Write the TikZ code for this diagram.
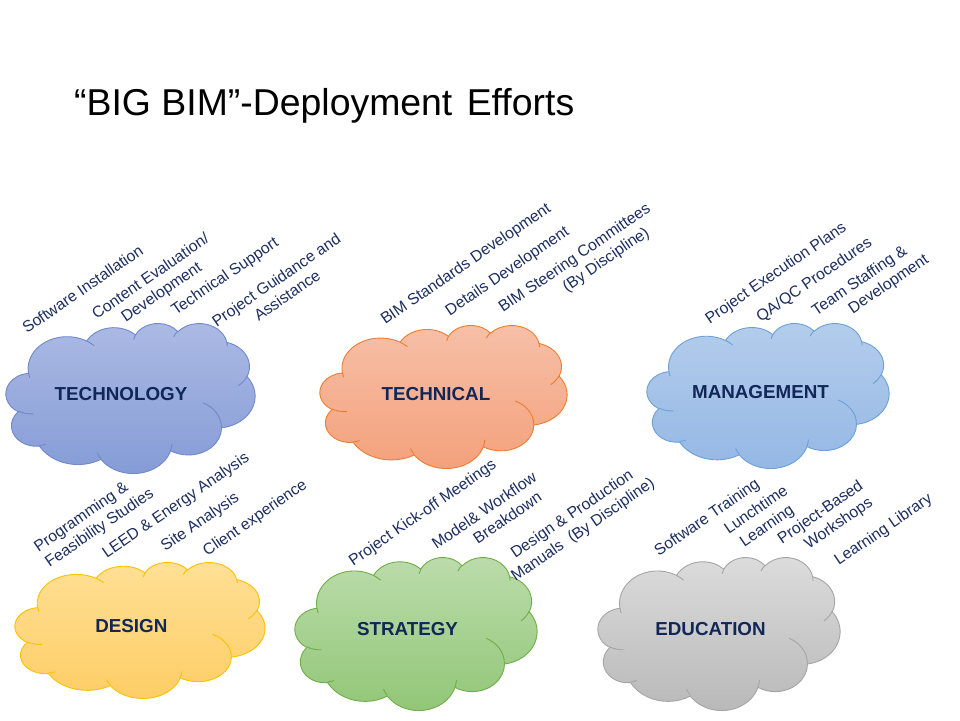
\documentclass[tikz,border=0pt]{standalone}
\usepackage{fontspec}
\setmainfont{Liberation Sans}
\definecolor{navy}{RGB}{28,46,96}
\definecolor{navyb}{RGB}{18,38,88}
\definecolor{techtop}{RGB}{172,186,228}
\definecolor{techbot}{RGB}{132,155,214}
\definecolor{techln}{RGB}{112,136,204}
\definecolor{tcaltop}{RGB}{247,192,168}
\definecolor{tcalbot}{RGB}{243,160,122}
\definecolor{tcalln}{RGB}{237,125,49}
\definecolor{mgmttop}{RGB}{180,205,236}
\definecolor{mgmtbot}{RGB}{148,183,228}
\definecolor{mgmtln}{RGB}{108,160,216}
\definecolor{destop}{RGB}{255,224,150}
\definecolor{desbot}{RGB}{253,205,100}
\definecolor{desln}{RGB}{255,192,0}
\definecolor{strtop}{RGB}{188,220,172}
\definecolor{strbot}{RGB}{145,198,118}
\definecolor{strln}{RGB}{112,173,71}
\definecolor{edutop}{RGB}{220,220,220}
\definecolor{edubot}{RGB}{184,184,184}
\definecolor{eduln}{RGB}{165,165,165}
% OOXML-style arcTo: visual angles -> parametric
\newcommand\ooarcs[4]{%
  \pgfmathsetmacro\ooA{atan2((#1)*sin(#3),(#2)*cos(#3))}%
  \pgfmathsetmacro\ooB{atan2((#1)*sin((#3)+(#4)),(#2)*cos((#3)+(#4)))}%
  \pgfmathsetmacro\ooD{\ooB-\ooA}%
  \pgfmathsetmacro\ooD{\ooD+360*round(((#4)-(\ooD))/360)}%
}
\newcommand\CA[4]{\pgfextra{\ooarcs{#1}{#2}{#3}{#4}} arc[start angle=\ooA, delta angle=\ooD, x radius=#1, y radius=#2]}
\newcommand\cloudoutline{%
 (39.00,143.70)
 \CA{67.53}{91.90}{-190.48748}{123.78053}
 \CA{53.33}{72.67}{-144.10238}{89.94523}
 \CA{43.65}{59.45}{-145.80792}{99.72302}
 \CA{48.57}{65.95}{-130.98607}{117.24173}
 \CA{53.33}{72.73}{-78.70888}{109.02692}
 \CA{67.75}{92.20}{-46.26725}{130.269}
 \CA{57.85}{78.67}{0.62502}{114.03333}
 \CA{67.52}{92.15}{22.4516}{115.17255}
 \CA{77.20}{105.43}{66.24263}{75.71102}
 \CA{43.60}{59.18}{-274.94208}{146.73557}
 \CA{43.45}{59.45}{-246.8285}{152.51885}
 -- cycle}
\newcommand\cloudcreases{%
 (46.93,261.77) \CA{43.45}{59.45}{86.742}{26.4295}
 (69.28,348.99) \CA{43.60}{59.18}{73.61047}{11.44747}
 (164.78,390.90) \CA{67.52}{92.15}{137.62415}{14.0811}
 (288.27,347.51) \CA{67.52}{92.15}{6.45327}{15.99835}
 (341.29,229.54) \CA{57.85}{78.67}{-70.29235}{70.91737}
 (417.98,153.54) \CA{53.33}{72.73}{30.31803}{27.7515}
 (383.24,54.26) \CA{48.57}{65.95}{-13.74433}{14.8589}
 (290.78,39.52) \CA{48.57}{65.95}{-149.18145}{18.19537}
 (221.41,47.20) \CA{43.65}{59.45}{-163.49427}{17.68635}
 (140.00,51.92) \CA{67.53}{91.90}{-66.70695}{12.31935}
 (41.27,157.89) \CA{67.53}{91.90}{157.65435}{11.85817}}
% x0 y0 W H top bottom line
\newcommand\bimcloud[7]{%
  \pgfmathsetmacro\cwx{#3/432}\pgfmathsetmacro\chy{#4/432}%
  \begin{scope}[xshift=#1pt, yshift=-#2pt, x=\cwx pt, y=-\chy pt]
    \path[draw=#7, line width=0.9pt, top color=#5, bottom color=#6] \cloudoutline;
    \path[draw=#7, line width=0.9pt] \cloudcreases;
  \end{scope}}
\tikzset{
  item/.style={text=navy, font=\fontsize{15.8}{19.2}\selectfont, rotate=34.5, align=center, inner sep=0pt},
  cloudlabel/.style={text=navyb, font=\fontsize{18.8}{22}\selectfont\bfseries, inner sep=0pt},
  titletext/.style={text=black, font=\fontsize{37.4}{44}\selectfont, inner sep=0pt, anchor=base west}
}
\begin{document}
\begin{tikzpicture}[x=1pt,y=-1pt]
\useasboundingbox[fill=white] (0,0) rectangle (960,720);
\node[titletext] (title) at (74,115) {“BIG BIM”-Deployment\hspace{4pt} Efforts};
% clouds
\bimcloud{6}{323}{249}{150}{techtop}{techbot}{techln}
\bimcloud{320}{325}{247}{143}{tcaltop}{tcalbot}{tcalln}
\bimcloud{647}{323}{242}{145}{mgmttop}{mgmtbot}{mgmtln}
\bimcloud{15}{562}{250}{136}{destop}{desbot}{desln}
\bimcloud{295}{557}{242}{153}{strtop}{strbot}{strln}
\bimcloud{598}{557}{242}{153}{edutop}{edubot}{eduln}
% cloud labels
\node[cloudlabel] (technology) at (121,394) {TECHNOLOGY};
\node[cloudlabel] (technical) at (436,394) {TECHNICAL};
\node[cloudlabel] (management) at (760.5,392.5) {MANAGEMENT};
\node[cloudlabel] (design) at (131.3,625.8) {DESIGN};
\node[cloudlabel] (strategy) at (407.5,629.2) {STRATEGY};
\node[cloudlabel] (education) at (710.5,629.2) {EDUCATION};
% items
\node[item] (i1) at (82.5,289.0) {Software Installation};
\node[item] (i2) at (156.6,285.0) {Content Evaluation/\\Development};
\node[item] (i3) at (225.4,276.9) {Technical Support};
\node[item] (i4) at (281.6,287.5) {Project Guidance and\\Assistance};
\node[item] (i5) at (466.2,264.4) {BIM Standards Development};
\node[item] (i6) at (507.7,271.7) {Details Development};
\node[item] (i7) at (580.3,266.5) {BIM Steering Committees\\\hspace*{50pt}(By Discipline)};
\node[item] (i8) at (776.2,273.5) {Project Execution Plans};
\node[item] (i9) at (814.5,280.2) {QA/QC Procedures};
\node[item] (i10) at (865.3,289.2) {Team Staffing \&\\\hspace*{44pt}Development};
\node[item] (i11) at (87.0,525.5) {Programming \&\\\hspace*{18pt}Feasibility Studies};
\node[item] (i12) at (176.2,506.0) {LEED \& Energy Analysis};
\node[item] (i13) at (200.4,522.7) {Site Analysis};
\node[item] (i14) at (255.4,518.5) {Client experience};
\node[item] (i15) at (422.9,513.5) {Project Kick-off Meetings};
\node[item] (i16) at (489.4,518.3) {Model\& Workflow\\\hspace*{30pt}Breakdown};
\node[item] (i17) at (577.8,522.5) {Design \& Production\\Manuals\ \ (By Discipline)};
\node[item] (i18) at (707.3,518.2) {Software Training};
\node[item] (i19) at (761.9,518.3) {Lunchtime\\Learning};
\node[item] (i20) at (826.1,520.8) {Project-Based\\\hspace*{18pt}Workshops};
\node[item] (i21) at (883.7,530.2) {Learning Library};
\end{tikzpicture}
\end{document}
